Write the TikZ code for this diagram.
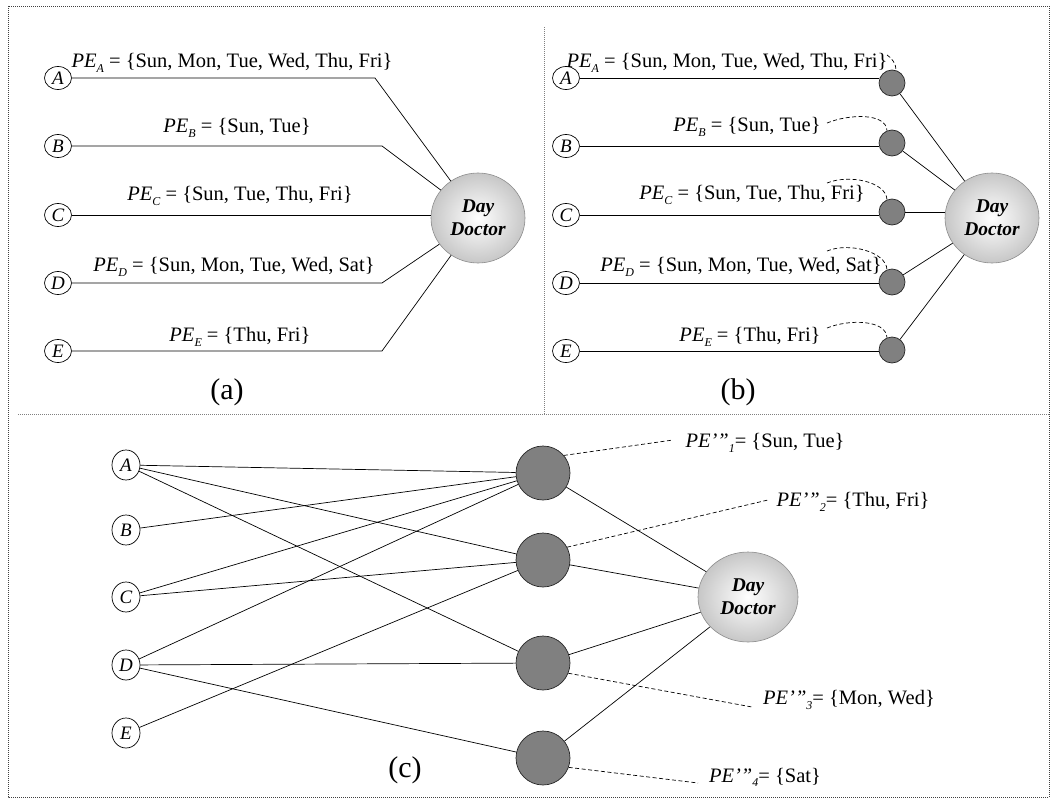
\documentclass[tikz,border=0pt]{standalone}
\usepackage{fontspec}
\setmainfont{Liberation Serif}
\usetikzlibrary{shapes.geometric}
\newcommand\lsub[1]{\raisebox{-0.45ex}{\fontsize{12}{12}\selectfont\textit{#1}}}
\newcommand\PEl[1]{\textit{PE}\lsub{#1}}
\newcommand\PEc[1]{\textit{PE’”}\lsub{#1}}
\tikzset{
  x=1pt,y=-1pt,
  letter/.style={ellipse,draw,line width=0.7pt,inner sep=0pt,minimum width=27pt,minimum height=23pt,font=\fontsize{19}{19}\selectfont\itshape},
  letterc/.style={letter,minimum width=28pt,minimum height=30pt},
  doctor/.style={ellipse,draw=black!45,line width=0.6pt,inner sep=0pt,minimum width=94pt,minimum height=90pt,inner color=white,outer color=black!22,align=center,font=\fontsize{19.5}{23}\selectfont\bfseries\itshape},
  ballsm/.style={circle,draw=black!85,line width=0.7pt,fill=black!50,inner sep=0pt,minimum size=26pt},
  ballbig/.style={circle,draw=black!85,line width=0.7pt,fill=black!50,inner sep=0pt,minimum size=54pt},
  lbl/.style={inner sep=0pt,font=\fontsize{20.5}{24}\selectfont},
  panelcap/.style={inner sep=0pt,font=\fontsize{30}{30}\selectfont},
  wire/.style={line width=0.7pt},
  dline/.style={line width=0.7pt,dash pattern=on 4pt off 2.5pt},
  frame/.style={line width=0.8pt,dash pattern=on 1pt off 1pt,black!75},
  divider/.style={line width=0.6pt,dash pattern=on 1pt off 1pt,black!50},
}
\begin{document}
\begin{tikzpicture}
\useasboundingbox (0,0) rectangle (1055,800);
% frame
\draw[frame] (8,6) rectangle (1049,797);
\draw[divider] (18,414) -- (1049,414);
\draw[divider] (544,27) -- (544,414);

% ---------------- panel (a)
\node[letter] (aA) at (58,78) {A};
\node[letter] (aB) at (58,146) {B};
\node[letter] (aC) at (58,215) {C};
\node[letter] (aD) at (58,283) {D};
\node[letter] (aE) at (58,351) {E};
\node[doctor] (aDD) at (478,218) {Day\\Doctor};
\coordinate (kA) at (375,78);
\coordinate (kB) at (382,146);
\coordinate (kD) at (382,283);
\coordinate (kE) at (382,351);
\draw[wire] (aA.east) -- (kA) -- (aDD);
\draw[wire] (aB.east) -- (kB) -- (aDD);
\draw[wire] (aC.east) -- (aC.east -| aDD.west);
\draw[wire] (aD.east) -- (kD) -- (aDD);
\draw[wire] (aE.east) -- (kE) -- (aDD);
\node[lbl] (laA) at (232,63) {\PEl{A} = \{Sun, Mon, Tue, Wed, Thu, Fri\}};
\node[lbl] (laB) at (237,128) {\PEl{B} = \{Sun, Tue\}};
\node[lbl] (laC) at (240,196) {\PEl{C} = \{Sun, Tue, Thu, Fri\}};
\node[lbl] (laD) at (234,267) {\PEl{D} = \{Sun, Mon, Tue, Wed, Sat\}};
\node[lbl] (laE) at (240,337) {\PEl{E} = \{Thu, Fri\}};
\node[panelcap] (capa) at (227,392) {(a)};

% ---------------- panel (b)
\node[letter] (bA) at (566,78) {A};
\node[letter] (bB) at (566,146) {B};
\node[letter] (bC) at (566,215) {C};
\node[letter] (bD) at (566,283) {D};
\node[letter] (bE) at (566,351) {E};
\node[ballsm] (pA) at (892,83) {};
\node[ballsm] (pB) at (892,143) {};
\node[ballsm] (pC) at (892,212) {};
\node[ballsm] (pD) at (892,282) {};
\node[ballsm] (pE) at (892,350) {};
\node[doctor] (bDD) at (992,218) {Day\\Doctor};
\draw[wire] (bA.east) -- (bA.east -| pA.west);
\draw[wire] (bB.east) -- (bB.east -| pB.west);
\draw[wire] (bC.east) -- (bC.east -| pC.west);
\draw[wire] (bD.east) -- (bD.east -| pD.west);
\draw[wire] (bE.east) -- (bE.east -| pE.west);
\foreach \p in {pA,pB,pD,pE} \draw[wire] (\p) -- (bDD);
\draw[wire] (pC.east) -- (pC.east -| bDD.west);
\node[lbl] (lbA) at (727,63) {\PEl{A} = \{Sun, Mon, Tue, Wed, Thu, Fri\}};
\node[lbl] (lbB) at (747,127) {\PEl{B} = \{Sun, Tue\}};
\node[lbl] (lbC) at (752,195) {\PEl{C} = \{Sun, Tue, Thu, Fri\}};
\node[lbl] (lbD) at (741,267) {\PEl{D} = \{Sun, Mon, Tue, Wed, Sat\}};
\node[lbl] (lbE) at (750,337) {\PEl{E} = \{Thu, Fri\}};
\coordinate (sA) at (887,55);
\coordinate (sB) at (827,123);
\coordinate (sC) at (827,183);
\coordinate (sD) at (827,251);
\coordinate (sE) at (827,328);
\draw[dline] (sA) .. controls (892,58) and (896,64) .. (pA.72);
\draw[dline] (sB) .. controls +(22,-9) and +(-1,-18) .. (pB.112);
\draw[dline] (sC) .. controls +(22,-9) and +(-1,-18) .. (pC.112);
\draw[dline] (sD) .. controls +(22,-9) and +(-1,-18) .. (pD.112);
\draw[dline] (sE) .. controls +(22,-9) and +(-1,-18) .. (pE.112);
\node[panelcap] (capb) at (738,392) {(b)};

% ---------------- panel (c)
\node[letterc] (cA) at (126,465) {A};
\node[letterc] (cB) at (126,530) {B};
\node[letterc] (cC) at (126,597) {C};
\node[letterc] (cD) at (126,665) {D};
\node[letterc] (cE) at (126,733) {E};
\node[ballbig] (q1) at (543,473) {};
\node[ballbig] (q2) at (543,560) {};
\node[ballbig] (q3) at (543,663) {};
\node[ballbig] (q4) at (543,758) {};
\node[doctor,minimum width=100pt] (cDD) at (748,597) {Day\\Doctor};
\draw[wire] (cA) -- (q1);
\draw[wire] (cA) -- (q2);
\draw[wire] (cA) -- (q3);
\draw[wire] (cB) -- (q1);
\draw[wire] (cC) -- (q1);
\draw[wire] (cC) -- (q2);
\draw[wire] (cD) -- (q1);
\draw[wire] (cD) -- (q3);
\draw[wire] (cD) -- (q4);
\draw[wire] (cE) -- (q2);
\foreach \q in {q1,q2,q3,q4} \draw[wire] (\q) -- (cDD);
\coordinate (t1) at (673,440);
\coordinate (t2) at (768,500);
\coordinate (t3) at (752,707);
\coordinate (t4) at (698,783);
\draw[dline] (q1.40) -- (t1);
\draw[dline] (q2.28) -- (t2);
\draw[dline] (q3.-22) -- (t3);
\draw[dline] (q4.-20) -- (t4);
\node[lbl] (lc1) at (765,443) {\PEc{1}= \{Sun, Tue\}};
\node[lbl] (lc2) at (853,502) {\PEc{2}= \{Thu, Fri\}};
\node[lbl] (lc3) at (849,700) {\PEc{3}= \{Mon, Wed\}};
\node[lbl] (lc4) at (765,777) {\PEc{4}= \{Sat\}};
\node[panelcap] (capc) at (405,770) {(c)};
\end{tikzpicture}
\end{document}
